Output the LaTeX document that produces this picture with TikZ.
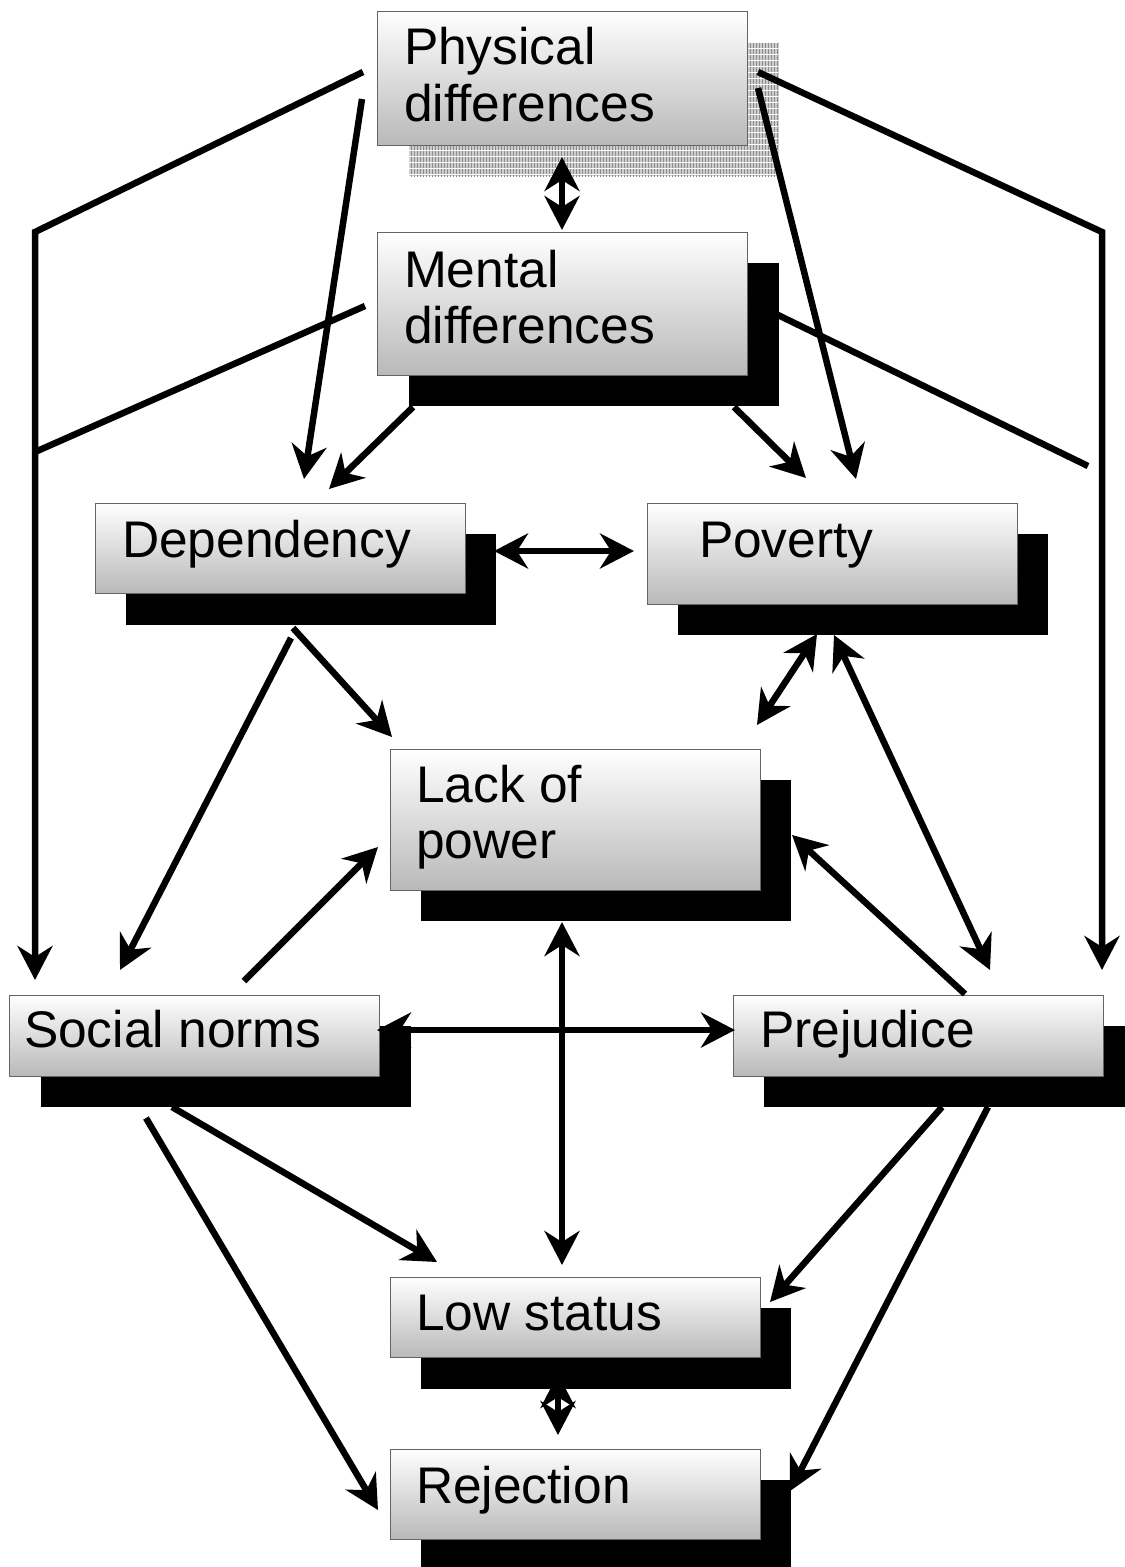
\documentclass[tikz,border=0pt]{standalone}
\usepackage{fontspec}
\setmainfont{Liberation Sans}
\usetikzlibrary{arrows.meta,patterns,patterns.meta}
\begin{document}
\begin{tikzpicture}[x=1pt,y=-1pt,
  boxst/.style={draw={rgb,255:red,100;green,100;blue,100}, line width=1pt,
    top color=white, bottom color={rgb,255:red,185;green,185;blue,185},
    inner sep=0pt, outer sep=0pt, anchor=north west, minimum width=370pt},
  shadowst/.style={fill=black, draw=none, inner sep=0pt, outer sep=0pt,
    anchor=north west, minimum width=370pt},
  hatchst/.style={fill={rgb,255:red,205;green,205;blue,205}, draw=none,
    inner sep=0pt, outer sep=0pt, anchor=north west, minimum width=370pt},
  txt/.style={anchor=base west, inner sep=0pt, outer sep=0pt,
    font=\fontsize{51.5}{56}\selectfont},
  conn/.style={line width=6.5pt, line join=miter},
  tip/.style={-{Stealth[length=34pt,width=35pt,inset=11pt]}},
  dtip/.style={{Stealth[length=34pt,width=35pt,inset=11pt]}-{Stealth[length=34pt,width=35pt,inset=11pt]}}
]
\useasboundingbox (0,0) rectangle (1125,1567);

% ---------- end points ----------
\coordinate (pL1) at (363,72);   \coordinate (pLk) at (35,232);   \coordinate (socTop) at (35,980);
\coordinate (pD) at (362,99);    \coordinate (depTopA) at (304,479);
\coordinate (pR1) at (758,72);   \coordinate (pRk) at (1102,232); \coordinate (prejTop) at (1102,970);
\coordinate (pP) at (758,88);    \coordinate (povTopA) at (856,479);
\coordinate (pmA) at (562,157);  \coordinate (pmB) at (562,230);
\coordinate (mL) at (365,306);   \coordinate (mLj) at (35,452);
\coordinate (mR) at (778,315);   \coordinate (mRe) at (1088,466);
\coordinate (mD) at (413,407);   \coordinate (depTopB) at (329,489);
\coordinate (mP) at (734,407);   \coordinate (povTopB) at (806,478);
\coordinate (dpA) at (494,551);  \coordinate (dpB) at (634,551);
\coordinate (dL) at (293,628);   \coordinate (lackTL) at (392,737);
\coordinate (dS) at (291,638);   \coordinate (socTopB) at (120,970);
\coordinate (sL) at (244,981);   \coordinate (lackL) at (378,847);
\coordinate (plA) at (817,634);  \coordinate (plB) at (757,725);
\coordinate (ppA) at (834,635);  \coordinate (ppB) at (990,970);
\coordinate (prL) at (965,994);  \coordinate (lackR) at (792,835);
\coordinate (llA) at (562,922);  \coordinate (llB) at (562,1265);
\coordinate (spA) at (377,1030); \coordinate (spB) at (735,1030);
\coordinate (sLo) at (172,1107); \coordinate (lowTL) at (437,1262);
\coordinate (sR) at (146,1118);  \coordinate (rejL) at (378,1510);
\coordinate (prLo) at (942,1107); \coordinate (lowR) at (770,1302);
\coordinate (prR) at (988,1107);  \coordinate (rejR) at (790,1491);
\coordinate (lrA) at (558,1374); \coordinate (lrB) at (558,1435);

% connector partly hidden by the shadow of Low status
\draw[conn,dtip] (lrA) -- (lrB);

% ---------- shadows ----------
\node[hatchst, minimum height=134pt] (physS) at (409,42) {};
\fill[pattern=vertical lines, pattern color={rgb,255:red,140;green,140;blue,140}] (409,42) rectangle (778,176);
\fill[pattern={Lines[angle=0,distance=6pt,line width=1pt]}, pattern color=white] (409,42) rectangle (778,176);
\node[shadowst, minimum height=143pt] (mentS) at (409,263) {};
\node[shadowst, minimum height=91pt]  (depS)  at (126,534) {};
\node[shadowst, minimum height=101pt] (povS)  at (678,534) {};
\node[shadowst, minimum height=141pt] (lackS) at (421,780) {};
\node[shadowst, minimum height=81pt]  (socS)  at (41,1026) {};
\node[shadowst, minimum height=81pt]  (prejS) at (764,1026) {};
\node[shadowst, minimum height=81pt]  (lowS)  at (421,1308) {};
\node[shadowst, minimum height=90pt]  (rejS)  at (421,1480) {};

% ---------- boxes ----------
\node[boxst, minimum height=134pt] (phys) at (377,11) {};
\node[boxst, minimum height=143pt] (ment) at (377,232) {};
\node[boxst, minimum height=90pt]  (dep)  at (95,503) {};
\node[boxst, minimum height=101pt] (pov)  at (647,503) {};
\node[boxst, minimum height=141pt] (lack) at (390,749) {};
\node[boxst, minimum height=81pt]  (soc)  at (9,995) {};
\node[boxst, minimum height=81pt]  (prej) at (733,995) {};
\node[boxst, minimum height=80pt]  (low)  at (390,1277) {};
\node[boxst, minimum height=90pt]  (rej)  at (390,1449) {};

% ---------- texts ----------
\node[txt] (physT1) at (404,64) {Physical};
\node[txt] (physT2) at (404,121) {differences};
\node[txt] (mentT1) at (404,287) {Mental};
\node[txt] (mentT2) at (404,343) {differences};
\node[txt] (depT)   at (122,557) {Dependency};
\node[txt] (povT)   at (699,557) {Poverty};
\node[txt] (lackT1) at (416,802) {Lack of};
\node[txt] (lackT2) at (416,858) {power};
\node[txt] (socT)   at (24,1047) {Social norms};
\node[txt] (prejT)  at (760,1047) {Prejudice};
\node[txt] (lowT)   at (416,1330) {Low status};
\node[txt] (rejT)   at (416,1503) {Rejection};

% ---------- connectors ----------
\draw[conn,tip] (pL1) -- (pLk) -- (socTop);
\draw[conn,tip] (pD) -- (depTopA);
\draw[conn,tip] (pR1) -- (pRk) -- (prejTop);
\draw[conn,tip] (pP) -- (povTopA);
\draw[conn,dtip] (pmA) -- (pmB);
\draw[conn] (mL) -- (mLj);
\draw[conn] (mR) -- (mRe);
\draw[conn,tip] (mD) -- (depTopB);
\draw[conn,tip] (mP) -- (povTopB);
\draw[conn,dtip] (dpA) -- (dpB);
\draw[conn,tip] (dL) -- (lackTL);
\draw[conn,tip] (dS) -- (socTopB);
\draw[conn,tip] (sL) -- (lackL);
\draw[conn,dtip] (plA) -- (plB);
\draw[conn,dtip] (ppA) -- (ppB);
\draw[conn,tip] (prL) -- (lackR);
\draw[conn,dtip] (llA) -- (llB);
\draw[conn,dtip] (spA) -- (spB);
\draw[conn,tip] (sLo) -- (lowTL);
\draw[conn,tip] (sR) -- (rejL);
\draw[conn,tip] (prLo) -- (lowR);
\draw[conn,tip] (prR) -- (rejR);
\end{tikzpicture}
\end{document}
